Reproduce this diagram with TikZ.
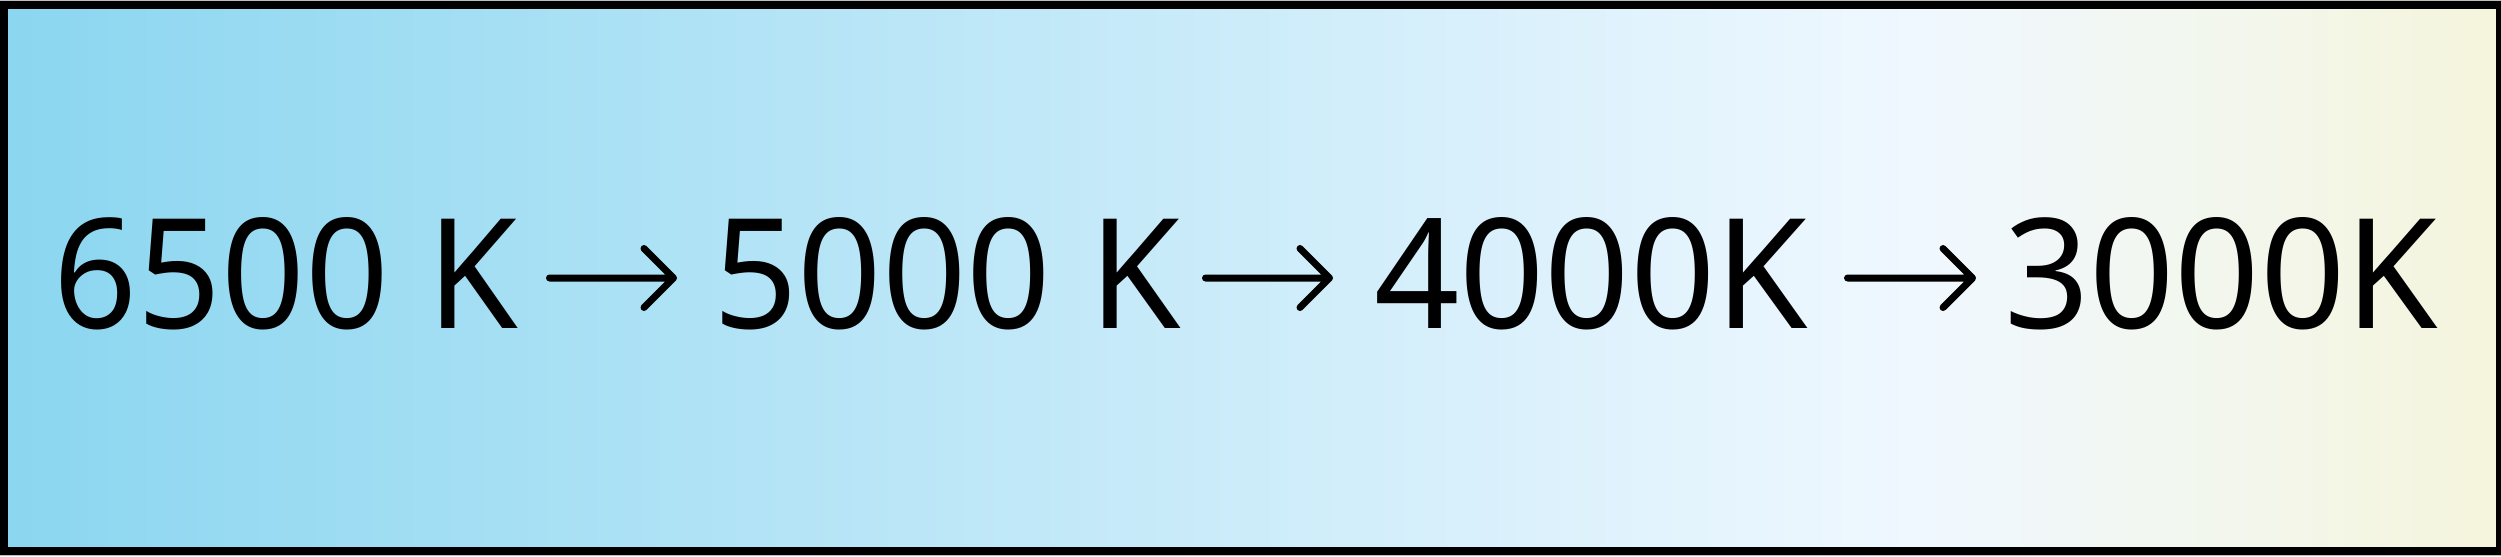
\documentclass[tikz,border=0pt]{standalone}
\usepackage{fontspec}
\setmainfont{Noto Sans}
\usepackage{graphicx}
\definecolor{cleft}{RGB}{139,214,240}
\definecolor{cmid}{RGB}{240,248,255}
\definecolor{cright}{RGB}{245,245,220}
\pgfdeclarehorizontalshading{ctemp}{100bp}{color(0bp)=(cleft); color(25bp)=(cleft); color(63.5bp)=(cmid); color(75bp)=(cright); color(100bp)=(cright)}
\tikzset{
  frame/.style={draw=black, line width=0.08cm},
  temp/.style={inner sep=0pt, anchor=south},
  conn/.style={draw=black, line width=0.07cm, line cap=round, line join=round},
}
\newcommand{\tlabel}[2]{\resizebox{#1}{1.11cm}{\fontsize{40}{48}\selectfont #2}}
\begin{document}
\begin{tikzpicture}
\useasboundingbox (0,0) rectangle (25.01,5.56);
\fill[black!25] (0,0) rectangle (25.01,5.56);
\shade[shading=ctemp] (0.04,0.05) rectangle (25.0,5.51);
\draw[frame] (0.04,0.05) rectangle (25.0,5.51);
\node[temp] (t1) at (2.86,2.25) {\tlabel{4.64cm}{6500 K}};
\node[temp] (t2) at (9.47,2.25) {\tlabel{4.68cm}{5000 K}};
\node[temp] (t3) at (15.91,2.25) {\tlabel{4.34cm}{4000K}};
\node[temp] (t4) at (22.21,2.25) {\tlabel{4.34cm}{3000K}};
\coordinate (a1s) at (5.495,2.78);
\coordinate (a1e) at (6.735,2.78);
\coordinate (a2s) at (12.055,2.78);
\coordinate (a2e) at (13.295,2.78);
\coordinate (a3s) at (18.475,2.78);
\coordinate (a3e) at (19.725,2.78);
\foreach \i in {1,2,3}{
  \draw[conn] (a\i s) -- (a\i e) (a\i e) ++(-0.295,0.295) -- (a\i e) -- ++(-0.295,-0.295);
}
\end{tikzpicture}
\end{document}
